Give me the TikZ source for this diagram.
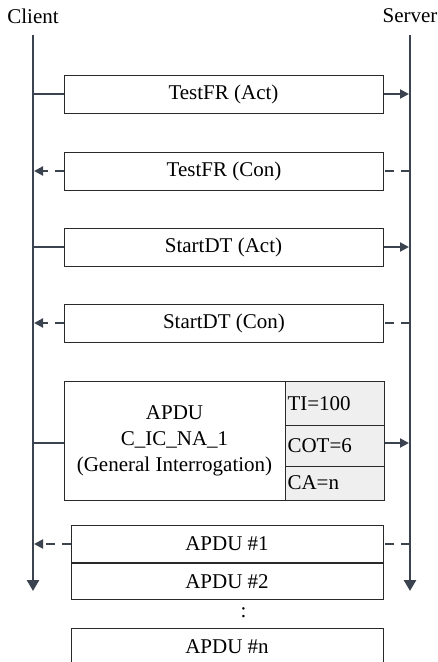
\documentclass[tikz,border=0pt]{standalone}
\usepackage{fontspec}
\setmainfont{Liberation Serif}
\usetikzlibrary{arrows.meta}
\definecolor{ln}{HTML}{3C4350}
\definecolor{cellgray}{HTML}{EFEFEF}
\definecolor{bx}{HTML}{2A2A2A}
\begin{document}
\begin{tikzpicture}[x=1pt,y=-1pt,
 font=\fontsize{21}{26}\selectfont,
 life/.style={ln, line width=2.6pt, -{Triangle[length=11pt,width=12pt]}},
 msg/.style={ln, line width=2pt},
 tipped/.style={-{Triangle[length=9pt,width=9pt]}, shorten >=1pt},
 dashmsg/.style={msg, dash pattern=on 9pt off 7pt},
 box/.style={draw=bx, line width=1pt, fill=white, minimum width=319pt, minimum height=38pt, inner sep=0pt},
 pbox/.style={draw=bx, line width=1pt, fill=white, minimum width=312pt, minimum height=36.3pt, inner sep=0pt},
 cellbox/.style={draw=bx, line width=1pt, fill=cellgray, minimum width=99pt, text width=94pt, align=left, inner sep=2.5pt},
]
\useasboundingbox (0,0) rectangle (438,662);

% participants
\node (client) at (33,16) {Client};
\node (server) at (410,16) {Server};

% lifelines
\coordinate (ctop) at (33,35);
\coordinate (cbot) at (33,591);
\coordinate (stop) at (410,35);
\coordinate (sbot) at (410,591);
\draw[life] (ctop) -- (cbot);
\draw[life] (stop) -- (sbot);

% 1: TestFR (Act)
\node[box] (m1) at (223.5,94) {TestFR (Act)};
\coordinate (c1) at (33,94);
\coordinate (s1) at (410,94);
\draw[msg] (c1) -- (m1.west);
\draw[msg,tipped] (m1.east) -- (s1);

% 2: TestFR (Con)
\node[box] (m2) at (224,171) {TestFR (Con)};
\coordinate (c2) at (33,171);
\coordinate (s2) at (410,171);
\draw[dashmsg] (s2) -- (m2.east);
\draw[dashmsg,tipped] (m2.west) -- (c2);

% 3: StartDT (Act)
\node[box] (m3) at (223.5,247) {StartDT (Act)};
\coordinate (c3) at (33,247);
\coordinate (s3) at (410,247);
\draw[msg] (c3) -- (m3.west);
\draw[msg,tipped] (m3.east) -- (s3);

% 4: StartDT (Con)
\node[box] (m4) at (224,323) {StartDT (Con)};
\coordinate (c4) at (33,323);
\coordinate (s4) at (410,323);
\draw[dashmsg] (s4) -- (m4.east);
\draw[dashmsg,tipped] (m4.west) -- (c4);

% 5: General Interrogation APDU
\node[draw=bx, line width=1pt, fill=white, minimum width=221pt, minimum height=118.5pt, inner sep=0pt, align=center]
  (gi) at (174.5,441) {APDU\\C\_IC\_NA\_1\\(General Interrogation)};
\node[cellbox, minimum height=43.5pt] (ti) at (334.5,403.5) {TI=100};
\node[cellbox, minimum height=41pt] (cot) at (334.5,445.5) {COT=6};
\node[cellbox, minimum height=34pt] (ca) at (334.5,483) {CA=n};
\coordinate (c5) at (33,443);
\coordinate (s5) at (410,443);
\draw[msg] (c5) -- (gi.west |- c5);
\draw[msg,tipped] (cot.east |- s5) -- (s5);

% 6: APDU responses
\node[pbox] (p1) at (227,544) {APDU \#1};
\node[pbox, anchor=north] (p2) at (p1.south) {APDU \#2};
\node (dots) at (243.5,613) {:};
\node[pbox] (pn) at (227,647) {APDU \#n};
\coordinate (c6) at (33,544);
\coordinate (s6) at (410,544);
\draw[dashmsg] (s6) -- (p1.east);
\draw[dashmsg,tipped] (p1.west) -- (c6);
\end{tikzpicture}
\end{document}
